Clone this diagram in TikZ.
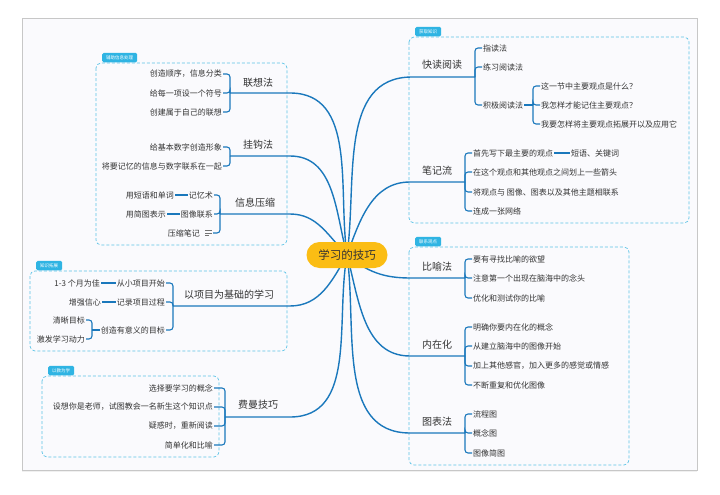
\documentclass[tikz,border=0pt]{standalone}
\usepackage{fontspec}
\setmainfont{Noto Sans CJK SC}
\usetikzlibrary{backgrounds, shadows}
\definecolor{linkblue}{HTML}{1A78BC}
\definecolor{boxcyan}{HTML}{5CC3E6}
\definecolor{tagcyan}{HTML}{2FB4E3}
\definecolor{rootyellow}{HTML}{FBBD14}
\definecolor{textgray}{HTML}{333333}
\definecolor{paper}{HTML}{FAFAFD}

\tikzset{
  root/.style={fill=rootyellow, rounded corners=13pt, minimum width=81pt, minimum height=26pt,
    font=\fontsize{11.5}{13}\selectfont, text=textgray},
  topic/.style={font=\fontsize{10}{12}\selectfont, text=textgray, inner sep=1pt},
  leaf/.style={font=\fontsize{8}{10}\selectfont, text=textgray, inner sep=1pt},
  trunk/.style={draw=linkblue, line width=1.4pt},
  br/.style={draw=linkblue, line width=1.1pt, rounded corners=3pt},
  zone/.style={draw=boxcyan, dash pattern=on 3pt off 2pt, line width=0.7pt, rounded corners=5pt},
  tag/.style={fill=tagcyan, text=white, font=\fontsize{4.5}{5}\selectfont, rounded corners=1.5pt,
    inner xsep=4pt, inner ysep=0pt, minimum height=9.5pt, anchor=south west}
}

\begin{document}
\begin{tikzpicture}[x=1pt, y=-1pt]
  \useasboundingbox (0,0) rectangle (720,495);

  % 中心主题
  \node[root] (c) at (347,255) {学习的技巧};

  % 获取知识：快读阅读
  \node[topic] (k1) at (442,65) {快读阅读};
  \coordinate (k1s) at (412,77);
  \coordinate (k1f) at (475,77);
  \foreach \nm/\txt/\yy in {a/指读法/48, b/练习阅读法/67, c/积极阅读法/105} {
    \node[leaf, anchor=west] (k1\nm) at (482,\yy) {\txt};
    \draw[br] (k1f) |- (k1\nm.west);
  }
  \coordinate (k1cf) at (533,105);
  \draw[br] (k1c.east) -- (k1cf);
  \foreach \nm/\txt/\yy in {a/这一节中主要观点是什么？/86, b/我怎样才能记住主要观点？/105,
      c/我要怎样将主要观点拓展开以及应用它/124} {
    \node[leaf, anchor=west] (k1c\nm) at (540,\yy) {\txt};
    \draw[br] (k1cf) |- (k1c\nm.west);
  }

  % 获取知识：笔记流
  \node[topic] (k2) at (437,171) {笔记流};
  \coordinate (k2s) at (410,182);
  \coordinate (k2f) at (465,182);
  \foreach \nm/\txt/\yy in {a/首先写下最主要的观点/153, b/在这个观点和其他观点之间划上一些箭头/172,
      c/将观点与 图像、图表以及其他主题相联系/192, d/连成一张网络/211} {
    \node[leaf, anchor=west] (k2\nm) at (472,\yy) {\txt};
    \draw[br] (k2f) |- (k2\nm.west);
  }
  \node[leaf, anchor=west] (k2a1) at (570,153) {短语、关键词};
  \draw[br] (k2a.east) -- (k2a1.west);

  % 联系观点
  \node[topic] (m1) at (437,267) {比喻法};
  \coordinate (m1s) at (410,278);
  \coordinate (m1f) at (465,278);
  \foreach \nm/\txt/\yy in {a/要有寻找比喻的欲望/259, b/注意第一个出现在脑海中的念头/278,
      c/优化和测试你的比喻/298} {
    \node[leaf, anchor=west] (m1\nm) at (472,\yy) {\txt};
    \draw[br] (m1f) |- (m1\nm.west);
  }
  \node[topic] (m2) at (437,345) {内在化};
  \coordinate (m2s) at (410,356);
  \coordinate (m2f) at (465,356);
  \foreach \nm/\txt/\yy in {a/明确你要内在化的概念/327, b/从建立脑海中的图像开始/346,
      c/加上其他感官，加入更多的感觉或情感/366, d/不断重复和优化图像/385} {
    \node[leaf, anchor=west] (m2\nm) at (472,\yy) {\txt};
    \draw[br] (m2f) |- (m2\nm.west);
  }
  \node[topic] (m3) at (437,422) {图表法};
  \coordinate (m3s) at (410,433);
  \coordinate (m3f) at (465,433);
  \foreach \nm/\txt/\yy in {a/流程图/414, b/概念图/433, c/图像简图/453} {
    \node[leaf, anchor=west] (m3\nm) at (472,\yy) {\txt};
    \draw[br] (m3f) |- (m3\nm.west);
  }

  % 辅助信息处理
  \node[topic] (a1) at (258,83) {联想法};
  \coordinate (a1e) at (290,93);
  \coordinate (a1f) at (230,93);
  \foreach \nm/\txt/\yy in {a/创造顺序，信息分类/74, b/给每一项设一个符号/93, c/创建属于自己的联想/112} {
    \node[leaf, anchor=east] (a1\nm) at (223,\yy) {\txt};
    \draw[br] (a1f) |- (a1\nm.east);
  }
  \node[topic] (a2) at (258,145) {挂钩法};
  \coordinate (a2e) at (290,156);
  \coordinate (a2f) at (230,156);
  \foreach \nm/\txt/\yy in {a/给基本数字创造形象/147, b/将要记忆的信息与数字联系在一起/166} {
    \node[leaf, anchor=east] (a2\nm) at (223,\yy) {\txt};
    \draw[br] (a2f) |- (a2\nm.east);
  }
  \node[topic] (a3) at (255,203) {信息压缩};
  \coordinate (a3e) at (290,214);
  \coordinate (a3f) at (220,214);
  \node[leaf, anchor=east] (a3a) at (214,195) {记忆术};
  \node[leaf, anchor=east] (a3b) at (214,214) {图像联系};
  \node[leaf, anchor=east] (a3c) at (201,233) {压缩笔记};
  \coordinate (a3cx) at (213,233);
  \draw[black!55, line width=0.6pt] (205,230.5) -- (212,230.5) (205,233) -- (212,233) (205,235.5) -- (209,235.5);
  \foreach \nm in {a,b} \draw[br] (a3f) |- (a3\nm.east);
  \draw[br] (a3f) |- (a3cx);
  \node[leaf, anchor=east] (a3a1) at (175,195) {用短语和单词};
  \node[leaf, anchor=east] (a3b1) at (167,214) {用简图表示};
  \draw[br] (a3a.west) -- (a3a1.east);
  \draw[br] (a3b.west) -- (a3b1.east);

  % 知识拓展
  \node[topic] (p) at (229,295) {以项目为基础的学习};
  \coordinate (pe) at (290,306);
  \coordinate (pf) at (173,306);
  \foreach \nm/\txt/\yy in {a/从小项目开始/283, b/记录项目过程/302, c/创造有意义的目标/330} {
    \node[leaf, anchor=east] (p\nm) at (166,\yy) {\txt};
    \draw[br] (pf) |- (p\nm.east);
  }
  \node[leaf, anchor=east] (pa1) at (101,283) {1-3 个月为佳};
  \node[leaf, anchor=east] (pb1) at (102,302) {增强信心};
  \draw[br] (pa.west) -- (pa1.east);
  \draw[br] (pb.west) -- (pb1.east);
  \coordinate (pcf) at (92,330);
  \draw[br] (pc.west) -- (pcf);
  \foreach \nm/\txt/\yy in {a/清晰目标/320, b/激发学习动力/339} {
    \node[leaf, anchor=east] (pc\nm) at (86,\yy) {\txt};
    \draw[br] (pcf) |- (pc\nm.east);
  }

  % 以教为学
  \node[topic] (f) at (258,405) {费曼技巧};
  \coordinate (fe) at (290,417);
  \coordinate (ff) at (225,417);
  \foreach \nm/\txt/\yy in {a/选择要学习的概念/388, b/设想你是老师，试图教会一名新生这个知识点/407,
      c/疑惑时，重新阅读/426, d/简单化和比喻/445} {
    \node[leaf, anchor=east] (f\nm) at (214,\yy) {\txt};
    \draw[br] (ff) |- (f\nm.east);
  }

  % 标签
  \node[tag] (t1) at (102,62.5) {辅助信息处理};
  \node[tag] (t2) at (36,270.5) {知识拓展};
  \node[tag] (t3) at (48,375.5) {以教为学};
  \node[tag] (t4) at (415,36.5) {获取知识};
  \node[tag] (t5) at (415,246.5) {联系观点};

  \begin{scope}[on background layer]
    % 画布
    \draw[fill=paper, draw=black!22, drop shadow={opacity=0.12, shadow xshift=0pt, shadow yshift=-1.5pt}]
      (22,18) rectangle (697,470);
    % 分区
    \draw[zone] (96,63) rectangle (287,245);
    \draw[zone] (30,271) rectangle (287,351);
    \draw[zone] (42,376) rectangle (219,457);
    \draw[zone] (409,37) rectangle (689,223);
    \draw[zone] (409,247) rectangle (629,465);
    % 主干
    \draw[trunk] (c.center) to[out=82, in=180] (k1s) -- (k1f);
    \draw[trunk] (c.center) to[out=70, in=180] (k2s) -- (k2f);
    \draw[trunk] (c.center) to[out=-40, in=180] (m1s) -- (m1f);
    \draw[trunk] (c.center) to[out=-75, in=180] (m2s) -- (m2f);
    \draw[trunk] (c.center) to[out=-82, in=180] (m3s) -- (m3f);
    \draw[trunk] (c.center) to[out=98, in=0] (a1e) -- (a1f);
    \draw[trunk] (c.center) to[out=105, in=0] (a2e) -- (a2f);
    \draw[trunk] (c.center) to[out=135, in=0] (a3e) -- (a3f);
    \draw[trunk] (c.center) to[out=-120, in=0] (pe) -- (pf);
    \draw[trunk] (c.center) to[out=-100, in=0] (fe) -- (ff);
  \end{scope}
\end{tikzpicture}
\end{document}
